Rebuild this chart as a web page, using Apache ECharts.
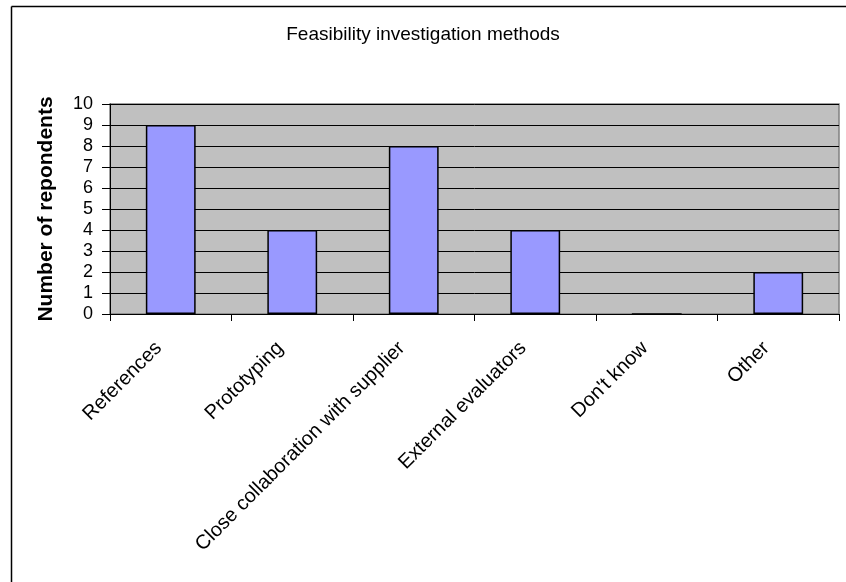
<!DOCTYPE html>
<html>
<head>
<meta charset="utf-8">
<script src="https://cdn.jsdelivr.net/npm/echarts@6/dist/echarts.min.js"></script>
<style>
html,body{margin:0;padding:0;background:#fff;}
#chart{width:846px;height:582px;}
</style>
</head>
<body>
<div id="chart"></div>
<script>
var titleText = 'Feasibility investigation methods';
var yAxisTitle = 'Number of repondents';
var categories = ['References', 'Prototyping', 'Close collaboration with supplier', 'External evaluators', "Don't know", 'Other'];
var respondents = [9, 4, 8, 4, 0, 2];
var yMin = 0, yMax = 10, yStep = 1;

var chart = echarts.init(document.getElementById('chart'), null, {renderer: 'canvas'});
var font = 'Liberation Sans, Arial, sans-serif';
chart.setOption({
  animation: false,
  backgroundColor: '#ffffff',
  title: {
    text: titleText,
    left: 'center',
    top: 20,
    textStyle: {fontFamily: font, fontSize: 19, fontWeight: 'normal', color: '#000'}
  },
  graphic: [
    {type: 'line', shape: {x1: 11.5, y1: 6.5, x2: 846, y2: 6.5}, style: {stroke: '#000', lineWidth: 1.5}, silent: true},
    {type: 'line', shape: {x1: 11.5, y1: 6.5, x2: 11.5, y2: 582}, style: {stroke: '#000', lineWidth: 1.5}, silent: true}
  ],
  grid: {
    left: 110, right: 7, top: 104, bottom: 268,
    show: true, backgroundColor: '#C0C0C0', borderColor: '#808080', borderWidth: 1.5,
    containLabel: false
  },
  xAxis: {
    type: 'category',
    data: categories,
    boundaryGap: true,
    axisLine: {lineStyle: {color: '#000', width: 1}},
    axisTick: {show: true, alignWithLabel: false, length: 7, lineStyle: {color: '#000'}},
    axisLabel: {rotate: 45, margin: 19, padding: [0, 17, 0, 0], fontFamily: font, fontSize: 20, color: '#000', interval: 0}
  },
  yAxis: {
    type: 'value',
    min: yMin, max: yMax, interval: yStep,
    name: yAxisTitle,
    nameLocation: 'middle',
    nameGap: 53,
    nameTextStyle: {fontFamily: font, fontSize: 21, fontWeight: 'bold', color: '#000'},
    axisLine: {show: true, lineStyle: {color: '#000', width: 1}},
    axisTick: {show: true, length: 8, lineStyle: {color: '#000'}},
    axisLabel: {margin: 17, fontFamily: font, fontSize: 18, color: '#000'},
    splitLine: {show: true, lineStyle: {color: '#000', width: 1}}
  },
  series: [{
    type: 'bar',
    data: respondents,
    barWidth: '41%',
    itemStyle: {color: '#9999FF', borderColor: '#000', borderWidth: 1.5}
  }]
});
</script>
</body>
</html>
